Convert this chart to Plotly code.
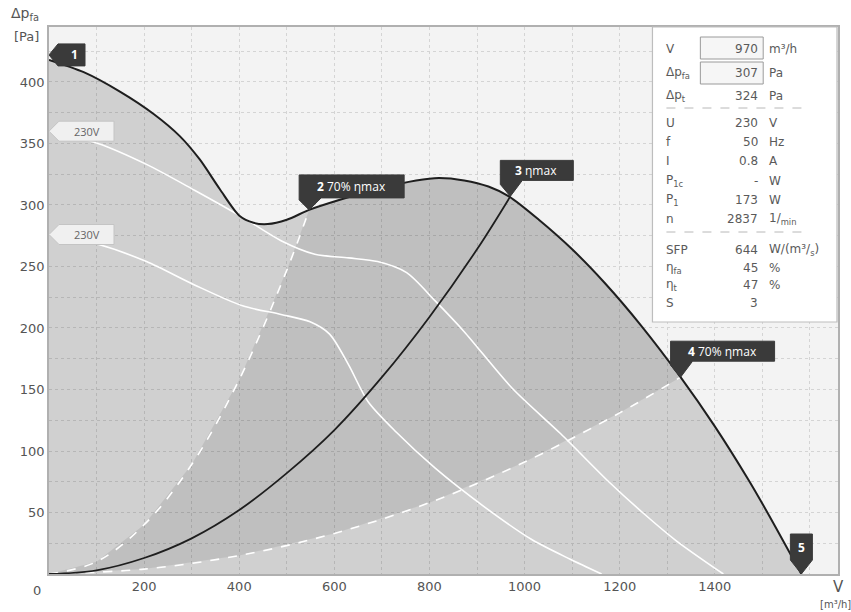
import plotly.graph_objects as go

# ---------------- data ----------------
# maximum characteristic curve (black)
max_x = [0, 73, 150, 220, 275, 317, 359, 401, 430, 460, 500, 547, 610, 691, 772, 820, 873, 924, 967, 1030, 1100, 1170, 1245, 1328, 1400, 1470, 1512, 1582]
max_y = [418, 408, 392, 374, 356, 337, 313, 291, 285.5, 284.5, 288, 296, 304, 313, 320, 322, 320, 315, 307, 288, 264, 236, 202, 160, 120, 77, 49, 0]

# 230V speed curves (white)
hi_x = [0, 103, 205, 306, 407, 488, 559, 630, 691, 752, 812, 873, 974, 1076, 1177, 1248, 1319, 1418]
hi_y = [360, 350, 333, 312, 290, 271, 260, 257, 254, 245, 222, 197, 151, 114, 75, 50, 27, 0]
lo_x = [0, 103, 205, 306, 407, 488, 549, 590, 630, 671, 731, 812, 914, 1015, 1096, 1162]
lo_y = [276, 268, 254, 235, 218, 211, 205, 195, 170, 140, 115, 86, 55, 28, 12, 0]

# system curves
eta_x = [0, 100, 200, 300, 400, 500, 600, 700, 800, 900, 970]
eta_y = [0, 3, 13, 29, 52, 82, 117, 160, 209, 264, 307]
s2_x = [0, 100, 200, 300, 400, 500, 547]
s2_y = [0, 10, 40, 89, 158, 247, 296]
s4_x = [0, 200, 400, 600, 800, 1000, 1200, 1328]
s4_y = [0, 4, 15, 33, 58, 91, 131, 160]

x_ticks = [200, 400, 600, 800, 1000, 1200, 1400]
y_ticks = [50, 100, 150, 200, 250, 300, 350, 400]

info_labels = ["V", "Δp<sub>fa</sub>", "Δp<sub>t</sub>", "U", "f", "I", "P<sub>1c</sub>", "P<sub>1</sub>", "n", "SFP", "η<sub>fa</sub>", "η<sub>t</sub>", "S"]
info_values = ["970", "307", "324", "230", "50", "0.8", "-", "173", "2837", "644", "45", "47", "3"]
info_units = ["m³/h", "Pa", "Pa", "V", "Hz", "A", "W", "W", "1/<sub>min</sub>", "W/(m³/<sub>s</sub>)", "%", "%", ""]

# ---------------- layout helpers (pixel -> paper) ----------------
L, R, T, B = 49, 11, 27, 38
W, H = 851, 612
PW, PH = W - L - R, H - T - B
def px(x):
    return (x - L) / PW
def py(y):
    return (H - B - y) / PH

fig = go.Figure()

# light area under max curve
fig.add_trace(go.Scatter(x=max_x, y=max_y, mode="lines", line=dict(width=0, shape="spline", smoothing=0.8),
                         fill="tozeroy", fillcolor="rgba(0,0,0,0.14)", hoverinfo="skip", showlegend=False))
# darker region between the 70% curves
poly_x = list(s2_x) + [x for x in max_x if s2_x[-1] < x < s4_x[-1]] + list(reversed(s4_x))
poly_y = list(s2_y) + [y for x, y in zip(max_x, max_y) if s2_x[-1] < x < s4_x[-1]] + list(reversed(s4_y))
fig.add_trace(go.Scatter(x=poly_x, y=poly_y, mode="lines", line=dict(width=0),
                         fill="toself", fillcolor="rgba(0,0,0,0.08)", hoverinfo="skip", showlegend=False))

for xs, ys in [(hi_x, hi_y), (lo_x, lo_y)]:
    fig.add_trace(go.Scatter(x=xs, y=ys, mode="lines",
                             line=dict(color="white", width=1.6, shape="spline", smoothing=0.8), showlegend=False))
for xs, ys in [(s2_x, s2_y), (s4_x, s4_y)]:
    fig.add_trace(go.Scatter(x=xs, y=ys, mode="lines",
                             line=dict(color="white", width=1.6, dash="dash", shape="spline"), showlegend=False))
fig.add_trace(go.Scatter(x=eta_x, y=eta_y, mode="lines", line=dict(color="#1e1e1e", width=1.8, shape="spline"),
                         showlegend=False))
fig.add_trace(go.Scatter(x=max_x, y=max_y, mode="lines",
                         line=dict(color="#1e1e1e", width=2, shape="spline", smoothing=0.8), showlegend=False))

shapes = []
annots = []
DARK = "#3a3a3a"
lab_font = dict(family="Open Sans, DejaVu Sans", size=12, color="white")

def path(pts):
    return "M " + " L ".join(f"{a},{b}" for a, b in pts) + " Z"

def marker(xa, ya, pts, fill, line):
    shapes.append(dict(type="path", xref="x", yref="y", xsizemode="pixel", ysizemode="pixel",
                       xanchor=xa, yanchor=ya, path=path(pts), fillcolor=fill,
                       line=dict(color=line, width=1), layer="above"))

def label(xa, ya, text, dx, dy, font):
    annots.append(dict(x=xa, y=ya, xref="x", yref="y", text=text, showarrow=False,
                       xshift=dx, yshift=dy, xanchor="center", yanchor="middle", font=font))

# 1
marker(0, 422, [(0, 0), (9, 11), (36, 11), (36, -11), (9, -11)], DARK, DARK)
label(0, 422, "<b>1</b>", 25, 0, lab_font)
# 2
marker(s2_x[-1], s2_y[-1], [(0, 0), (-10, 10), (-10, 35), (95, 35), (95, 12), (12, 12)], DARK, DARK)
label(s2_x[-1], s2_y[-1], "<b>2</b> 70% ηmax", 42, 23, lab_font)
# 3
marker(eta_x[-1], eta_y[-1], [(0, 0), (-10, 12), (-10, 36), (63, 36), (63, 16), (12, 16)], DARK, DARK)
label(eta_x[-1], eta_y[-1], "<b>3</b> ηmax", 26, 26, lab_font)
# 4
marker(s4_x[-1], s4_y[-1], [(0, 0), (-10, 12), (-10, 36), (94, 36), (94, 16), (12, 16)], DARK, DARK)
label(s4_x[-1], s4_y[-1], "<b>4</b> 70% ηmax", 42, 26, lab_font)
# 5
marker(max_x[-1], max_y[-1], [(0, 0), (-11, 14), (-11, 40), (11, 40), (11, 14)], DARK, DARK)
label(max_x[-1], max_y[-1], "<b>5</b>", 0, 27, lab_font)
# 230V tags
for yv in [hi_y[0], lo_y[0]]:
    marker(0, yv, [(0, 0), (10, 10), (65, 10), (65, -10), (10, -10)], "#f0f0f0", "#c4c4c4")
    label(0, yv, "230V", 38, 0, dict(family="Open Sans, DejaVu Sans", size=11, color="#666"))

# info box
shapes.append(dict(type="rect", xref="paper", yref="paper", x0=px(654), x1=px(839), y0=py(322), y1=py(27),
                   fillcolor="white", line=dict(color="#bdbdbd", width=1.2), layer="above"))
for y0, y1 in [(37, 59), (62, 84)]:
    shapes.append(dict(type="rect", xref="paper", yref="paper", x0=px(702), x1=px(765), y0=py(y1), y1=py(y0),
                       fillcolor="#f6f6f6", line=dict(color="#9a9a9a", width=1), layer="above"))
for yy in [108, 232]:
    shapes.append(dict(type="line", xref="paper", yref="paper", x0=px(668), x1=px(805), y0=py(yy), y1=py(yy),
                       line=dict(color="#b8b8b8", width=1, dash="dash"), layer="above"))

def ptext(x, y, text, font, xanchor="center"):
    annots.append(dict(x=px(x), y=py(y), xref="paper", yref="paper", text=text, showarrow=False,
                       xanchor=xanchor, yanchor="middle", font=font))

row_y = [49, 73, 96, 123, 142, 161, 181, 200, 219, 250, 268, 285, 303]
info_font = dict(family="DejaVu Sans", size=12, color="#5a5a5a")
for lab, val, unit, yy in zip(info_labels, info_values, info_units, row_y):
    ptext(666, yy, lab, info_font, "left")
    ptext(762, yy, val, info_font, "right")
    if unit:
        ptext(769, yy, unit, info_font, "left")

axis_font = dict(family="DejaVu Sans", size=13, color="#555")
# axis titles and zero
ptext(25, 14, "Δp<sub>fa</sub>", dict(family="DejaVu Sans", size=14, color="#555"))
ptext(26, 36, "[Pa]", axis_font)
ptext(841, 587, "V", dict(family="DejaVu Sans", size=15, color="#555"))
ptext(837, 604, "[m³/h]", dict(family="DejaVu Sans", size=10, color="#555"))
ptext(37, 590, "0", axis_font)

fig.update_layout(
    width=W, height=H, margin=dict(l=L, r=R, t=T, b=B),
    paper_bgcolor="white", plot_bgcolor="#f3f3f3",
    shapes=shapes, annotations=annots, showlegend=False,
    xaxis=dict(range=[0, 1659], tickvals=x_ticks, showgrid=True, gridcolor="#d4d4d4", griddash="dot",
               minor=dict(dtick=100, tick0=0, showgrid=True, gridcolor="#d4d4d4", griddash="dot"),
               showline=True, linecolor="#b0b0b0", linewidth=1.5, mirror=True, zeroline=False,
               tickfont=axis_font, ticks=""),
    yaxis=dict(range=[0, 444.7], tickvals=y_ticks, showgrid=True, gridcolor="#d4d4d4", griddash="dot",
               minor=dict(dtick=25, tick0=0, showgrid=True, gridcolor="#d4d4d4", griddash="dot"),
               showline=True, linecolor="#b0b0b0", linewidth=1.5, mirror=True, zeroline=False,
               tickfont=axis_font, ticks=""),
)

fig.write_html("out.html", config={"displayModeBar": False},
               post_script="document.body.style.margin='0';document.body.style.overflow='hidden';")
